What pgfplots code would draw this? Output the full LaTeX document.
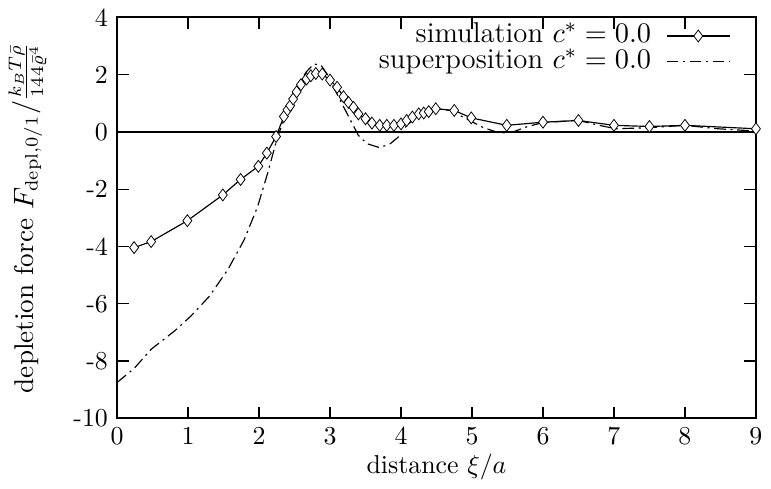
\documentclass[border=0pt]{standalone}
\usepackage{pgfplots}
\pgfplotsset{compat=1.18}
\begin{document}
\begin{tikzpicture}
\begin{axis}[
  scale only axis,
  width=247pt, height=155pt,
  xmin=0, xmax=9, ymin=-10, ymax=4,
  xtick={0,1,...,9},
  ytick={-10,-8,-6,-4,-2,0,2,4},
  yticklabels={-10,-8,-6,-4,-2,0,2,4},
  tick align=inside, tick pos=both,
  major tick length=4.5pt,
  axis line style={line width=0.7pt},
  every tick/.style={line width=0.5pt, black},
  xlabel={distance $\xi/a$},
  ylabel={depletion force $F_{\mathrm{depl},0/1}\big/\frac{k_B T\bar{\rho}}{144\bar{\varrho}^4}$},
  xlabel style={yshift=3pt},
  ylabel style={yshift=3.5pt, font=\fontsize{10.5}{12}\selectfont},
  legend plot pos=right,
  legend cell align=right,
  legend image code/.code={\draw[mark repeat=2,mark phase=2,#1] plot coordinates {(0cm,0cm) (0.43cm,0cm) (0.86cm,0cm)};},
  legend style={draw=none, fill=none, at={(0.961,1)}, anchor=north east, yshift=-2pt,
    inner sep=0pt, row sep=0pt, column sep=5.8pt,
    nodes={inner sep=0pt, text height=7.5pt, text depth=2.5pt},
    font=\fontsize{11.1}{13}\selectfont},
  clip=false,
]
\addplot[black, line width=0.45pt, mark=diamond*, mark options={fill=white, scale=1.15, line width=0.3pt}] coordinates {
(0.24,-4.04) (0.48,-3.83) (0.99,-3.10) (1.49,-2.20) (1.74,-1.66) (1.99,-1.20) (2.11,-0.74)
(2.24,-0.16) (2.35,0.54) (2.40,0.77) (2.44,0.92) (2.48,1.15) (2.53,1.40) (2.59,1.65) (2.67,1.85)
(2.73,1.96) (2.80,2.04) (2.89,2.02) (3.00,1.81) (3.10,1.56) (3.19,1.23) (3.26,1.03) (3.33,0.86)
(3.40,0.63) (3.50,0.46) (3.59,0.31) (3.70,0.23) (3.80,0.23) (3.90,0.23) (4.00,0.28) (4.08,0.40)
(4.16,0.52) (4.25,0.63) (4.32,0.66) (4.39,0.71) (4.49,0.81) (4.75,0.75) (4.99,0.49) (5.49,0.23)
(6.00,0.34) (6.50,0.40) (7.00,0.23) (7.50,0.19) (8.00,0.23) (9.00,0.11)
};
\addlegendentry{simulation $c^{*}=0.0$}
\addplot[black, line width=0.45pt, dash pattern=on 4.5pt off 1.8pt on 0.8pt off 1.8pt] coordinates {
(0,-8.75) (0.24,-8.26) (0.48,-7.59) (0.81,-6.95) (1.04,-6.43) (1.30,-5.74) (1.56,-4.81)
(1.79,-3.77) (1.98,-2.61) (2.12,-1.45) (2.26,-0.18) (2.40,0.75) (2.54,1.56) (2.66,2.08)
(2.77,2.37) (2.87,2.34) (2.96,2.02) (3.05,1.56) (3.17,0.98) (3.29,0.40) (3.40,-0.12)
(3.52,-0.41) (3.70,-0.55) (3.85,-0.41) (3.99,-0.12) (4.08,0.23) (4.22,0.51) (4.41,0.69)
(4.55,0.80) (4.69,0.75) (4.92,0.46) (5.16,0.15) (5.39,-0.04) (5.58,0.00) (5.76,0.17)
(6.00,0.33) (6.50,0.40) (6.79,0.23) (7.03,0.11) (7.50,0.15) (8.00,0.23) (8.47,0.11) (9.00,0.03)
};
\addlegendentry{superposition $c^{*}=0.0$}
\addplot[black, line width=0.45pt, forget plot] coordinates {(0,0) (9,0)};
\end{axis}
\end{tikzpicture}
\end{document}
